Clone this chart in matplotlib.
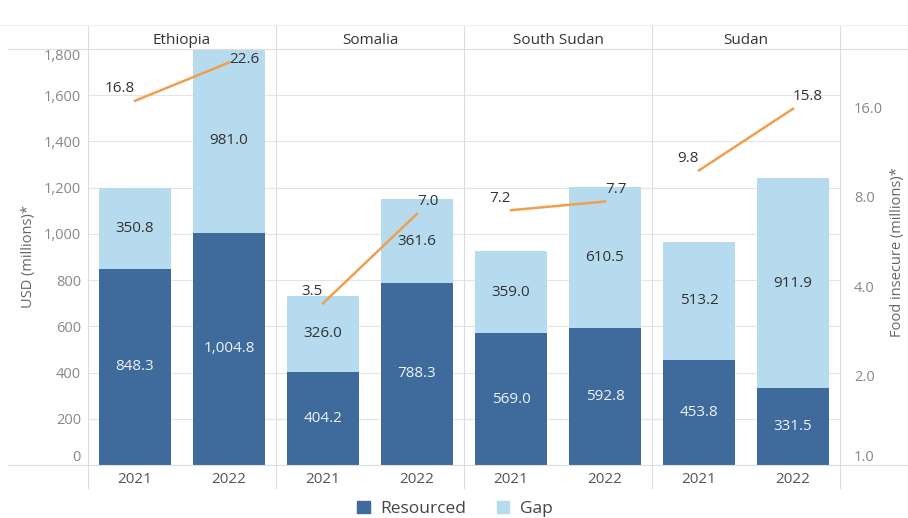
import matplotlib
matplotlib.use("Agg")
import matplotlib.pyplot as plt
from matplotlib.lines import Line2D
from matplotlib.patches import Patch
from matplotlib.ticker import FixedLocator, NullLocator

plt.rcParams['font.family'] = ['Open Sans', 'DejaVu Sans']

# Data
countries = ['Ethiopia', 'Somalia', 'South Sudan', 'Sudan']
years = ['2021', '2022']
resourced = [[848.3, 1004.8], [404.2, 788.3], [569.0, 592.8], [453.8, 331.5]]
gap = [[350.8, 981.0], [326.0, 361.6], [359.0, 610.5], [513.2, 911.9]]
food_insecure = [[16.8, 22.6], [3.5, 7.0], [7.2, 7.7], [9.8, 15.8]]

usd_ticks = [0, 200, 400, 600, 800, 1000, 1200, 1400, 1600, 1800]
food_ticks = [1.0, 2.0, 4.0, 8.0, 16.0]

DARK = '#3e6b9b'
LIGHT = '#b6daee'
ORANGE = '#eea04e'
GRID = '#e4e4e4'

W, H = 908, 518
fig = plt.figure(figsize=(W / 100, H / 100), dpi=100)

def fx(px):
    return px / W

def fy(py):
    return 1 - py / H

plot_top, plot_bot = 49, 465
panel_left, panel_w = 88, 188

for i, c in enumerate(countries):
    ax = fig.add_axes([fx(panel_left + i * panel_w), fy(plot_bot),
                       fx(panel_w), (plot_bot - plot_top) / H])
    x = [0, 1]
    ax.bar(x, resourced[i], width=0.76, color=DARK, zorder=2)
    ax.bar(x, gap[i], width=0.76, bottom=resourced[i], color=LIGHT, zorder=2)
    ax.set_xlim(-0.5, 1.5)
    ax.set_ylim(0, 1800)
    ax.set_yticks(usd_ticks)
    ax.yaxis.grid(True, color=GRID, linewidth=0.8, zorder=0)
    ax.set_axisbelow(True)
    for s in ax.spines.values():
        s.set_visible(False)
    ax.set_xticks(x)
    ax.set_xticklabels(years, fontsize=11, color='#555555')
    ax.tick_params(axis='x', length=0, pad=5)
    ax.tick_params(axis='y', length=0)
    if i == 0:
        ax.set_yticklabels([f'{t:,}' for t in usd_ticks], fontsize=10.5, color='#888888')
        ax.tick_params(axis='y', pad=5)
        lbls = ax.get_yticklabels()
        lbls[0].set_verticalalignment('bottom')
        lbls[-1].set_verticalalignment('top')
        ax.set_ylabel('USD (millions)*', fontsize=10.5, color='#666666')
        ax.yaxis.set_label_coords((36 - panel_left) / panel_w, 0.5)
    else:
        ax.set_yticklabels([])

    # value labels in segments
    for j in range(2):
        r = resourced[i][j]
        g = gap[i][j]
        ax.text(j, r / 2, f'{r:,.1f}', ha='center', va='center',
                fontsize=11, color='#eef3f8', zorder=3)
        top = min(r + g, 1800)
        ax.text(j, (r + top) / 2, f'{g:,.1f}', ha='center', va='center',
                fontsize=11, color='#333333', zorder=3)

    # food insecure line on log2 axis
    ax2 = ax.twinx()
    ax2.set_yscale('log', base=2)
    ax2.set_ylim(1.0, 25.1)
    ax2.set_xlim(-0.5, 1.5)
    ax2.plot(x, food_insecure[i], color=ORANGE, linewidth=1.8, zorder=4)
    for s in ax2.spines.values():
        s.set_visible(False)
    ax2.yaxis.set_major_locator(FixedLocator(food_ticks))
    ax2.yaxis.set_minor_locator(NullLocator())
    ax2.tick_params(axis='y', length=0, which='both')
    if i == len(countries) - 1:
        ax2.set_yticklabels([f'{t:.1f}' for t in food_ticks], fontsize=10.5, color='#888888')
        ax2.tick_params(axis='y', pad=10)
        ax2.get_yticklabels()[0].set_verticalalignment('bottom')
    else:
        ax2.set_yticklabels([])

    # line labels, kept inside the plot area
    top_disp = ax2.transAxes.transform((0, 1))[1]
    for j in range(2):
        v = food_insecure[i][j]
        py = ax2.transData.transform((j, v))[1]
        dy = min(12, (top_disp - py) - 11)
        ax2.annotate(f'{v:.1f}', (j, v), xytext=(0, dy), textcoords='offset pixels',
                     ha='right' if j == 0 else 'left', va='center',
                     fontsize=11, color='#333333', zorder=5)

    # strip label
    fig.text(fx(panel_left + i * panel_w + panel_w / 2), fy(40), c,
             ha='center', va='center', fontsize=11, color='#333333')

# frame lines
line_kw = dict(transform=fig.transFigure, color='#dddddd', linewidth=0.8)
for k in range(len(countries) + 1):
    xx = fx(panel_left + k * panel_w)
    fig.add_artist(Line2D([xx, xx], [fy(25), fy(488)], **line_kw))
fig.add_artist(Line2D([fx(8), 1], [fy(plot_top), fy(plot_top)], **line_kw))
fig.add_artist(Line2D([fx(8), 1], [fy(plot_bot), fy(plot_bot)], **line_kw))
fig.add_artist(Line2D([0, 1], [fy(25), fy(25)], transform=fig.transFigure,
                      color='#eeeeee', linewidth=0.8))

fig.text(fx(897), fy(252), 'Food insecure (millions)*', rotation=90, ha='center',
         va='center', fontsize=10.5, color='#666666')

handles = [Patch(color=DARK, label='Resourced'), Patch(color=LIGHT, label='Gap')]
fig.legend(handles=handles, loc='center', bbox_to_anchor=(fx(455), fy(509)), ncol=2,
           frameon=False, fontsize=12.5, handlelength=0.7, handleheight=0.7,
           columnspacing=1.8, handletextpad=0.6, labelcolor='#444444')

fig.savefig('out.png', dpi=100)
